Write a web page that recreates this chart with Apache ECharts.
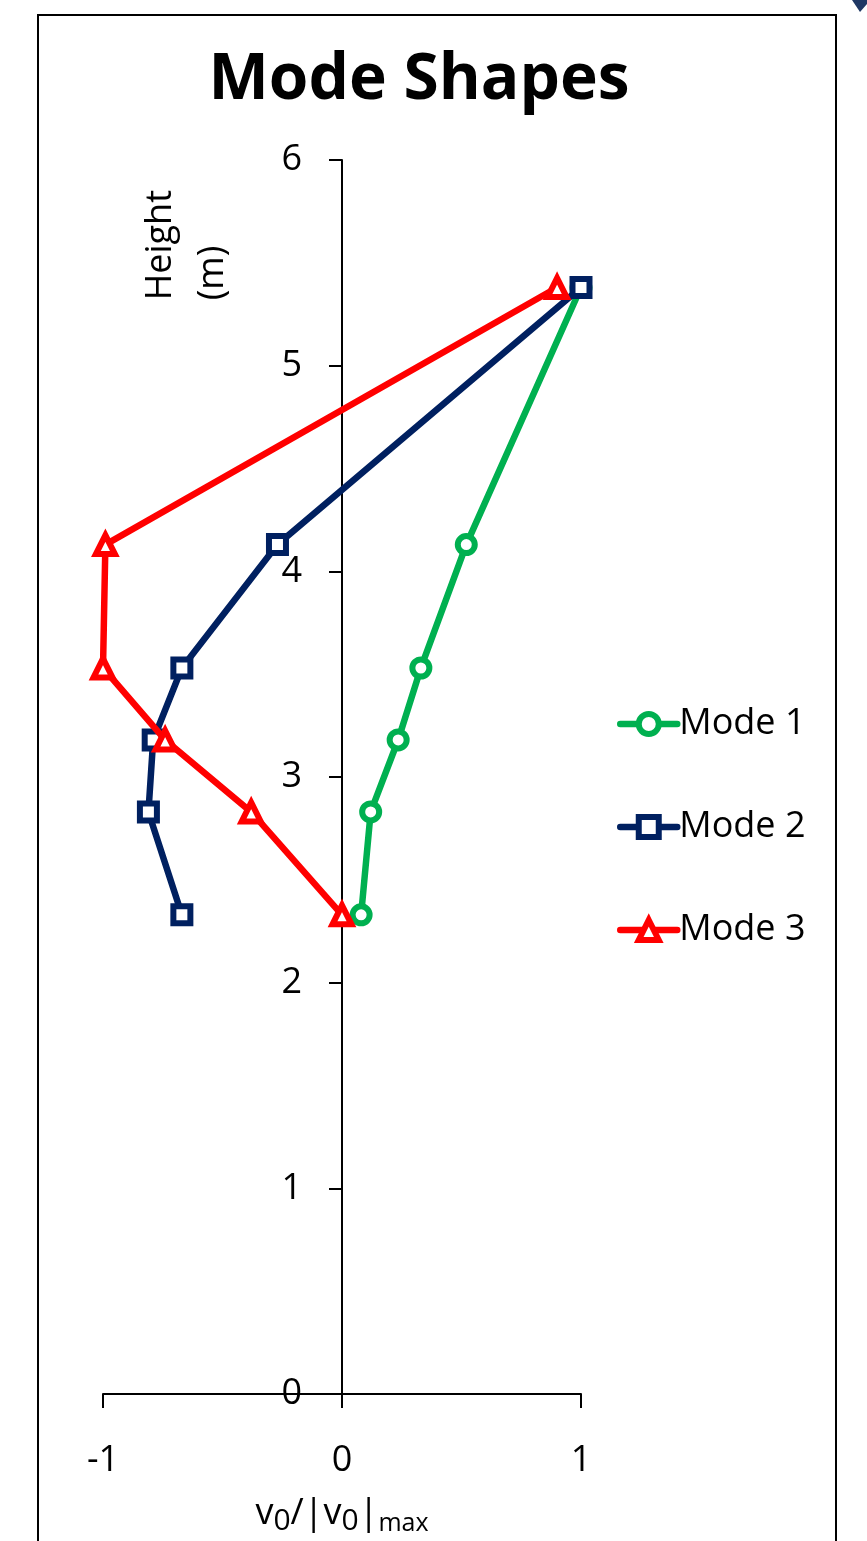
<!DOCTYPE html>
<html>
<head>
<meta charset="utf-8">
<script src="https://cdn.jsdelivr.net/npm/echarts@6/dist/echarts.min.js"></script>
<style>
html,body{margin:0;padding:0;background:#fff;}
#chart{width:867px;height:1541px;}
</style>
</head>
<body>
<div id="chart"></div>
<script>
// Data
const heights = [2.33, 2.83, 3.18, 3.53, 4.13, 5.38];
const mode1 = [0.08, 0.12, 0.235, 0.33, 0.52, 1.0];
const mode2 = [-0.67, -0.81, -0.79, -0.67, -0.27, 1.0];
const mode3 = [0.0, -0.38, -0.74, -1.0, -0.99, 0.9];
const seriesNames = ['Mode 1', 'Mode 2', 'Mode 3'];
const xTicks = [-1, 0, 1];
const yTicks = [0, 1, 2, 3, 4, 5, 6];

const FONT = 'Open Sans';
const colors = ['#00B050', '#002060', '#FF0000'];
const symbols = ['circle', 'rect', 'triangle'];
const symbolSizes = [17, 17, 19];
const modes = [mode1, mode2, mode3];

const chart = echarts.init(document.getElementById('chart'), null, {renderer: 'canvas'});

const series = modes.map((m, i) => ({
  name: seriesNames[i],
  type: 'line',
  data: m.map((v, k) => [v, heights[k]]),
  symbol: symbols[i],
  symbolSize: symbolSizes[i],
  showAllSymbol: true,
  lineStyle: {color: colors[i], width: 6.5, cap: 'round', join: 'round'},
  itemStyle: {color: '#ffffff', borderColor: colors[i], borderWidth: 6},
  emphasis: {disabled: true},
  animation: false,
  z: 2 + i
}));

// plot area: x -1..1 spans px 103..581, y 0..6 spans px 1403.5..160
const gridLeft = 103, gridRight = 286;
const zeroOffset = -(342 - gridLeft);

const option = {
  animation: false,
  backgroundColor: '#ffffff',
  textStyle: {fontFamily: FONT},
  title: {
    text: 'Mode Shapes',
    left: 414,
    top: 44,
    textAlign: 'center',
    textStyle: {fontFamily: FONT, fontWeight: 'bold', fontSize: 64, color: '#000'}
  },
  grid: {left: gridLeft, right: gridRight, top: 160, bottom: 137.5, containLabel: false},
  xAxis: {
    type: 'value',
    min: xTicks[0],
    max: xTicks[xTicks.length - 1],
    interval: 1,
    axisLine: {onZero: false, lineStyle: {color: '#000', width: 2}},
    axisTick: {show: true, inside: false, length: 14, lineStyle: {color: '#000', width: 2}},
    axisLabel: {color: '#000', fontSize: 36, fontFamily: FONT, margin: 49,
      formatter: v => (xTicks.indexOf(v) >= 0 ? String(v) : '')},
    splitLine: {show: false},
    name: '{m|v}{s|0}{m|/|v}{s|0}{m||}{x|max}',
    nameLocation: 'middle',
    nameGap: 98,
    nameTextStyle: {
      rich: {
        m: {fontFamily: FONT, fontSize: 36, color: '#000', lineHeight: 44, verticalAlign: 'middle'},
        s: {fontFamily: FONT, fontSize: 30, color: '#000', lineHeight: 30, verticalAlign: 'bottom'},
        x: {fontFamily: FONT, fontSize: 25, color: '#000', lineHeight: 25, verticalAlign: 'bottom'}
      }
    }
  },
  yAxis: {
    type: 'value',
    position: 'left',
    offset: zeroOffset,
    min: yTicks[0],
    max: yTicks[yTicks.length - 1],
    interval: 1,
    axisLine: {show: true, onZero: false, lineStyle: {color: '#000', width: 2}},
    axisTick: {show: true, inside: false, length: 13, lineStyle: {color: '#000', width: 2}},
    axisLabel: {color: '#000', fontSize: 36, fontFamily: FONT, margin: 40},
    splitLine: {show: false}
  },
  legend: {
    orient: 'vertical',
    left: 612,
    top: 696,
    itemWidth: 57,
    itemHeight: 25,
    itemGap: 57,
    data: seriesNames,
    lineStyle: {width: 6.5},
    itemStyle: {borderWidth: 6},
    textStyle: {fontFamily: FONT, fontSize: 36, color: '#000', lineHeight: 46, padding: [0, 0, 0, -3]},
    selectedMode: false
  },
  graphic: [
    {type: 'rect', shape: {x: 38, y: 15, width: 798, height: 1600},
     style: {fill: 'none', stroke: '#000', lineWidth: 2}, z: 0, silent: true},
    {type: 'polygon', shape: {points: [[852, 0], [867, 0], [867, 4], [860, 12]]},
     style: {fill: '#1f3864'}, silent: true},
    {type: 'text', rotation: Math.PI / 2, left: 135, top: 190,
     style: {text: 'Height\n(m)', fontFamily: FONT, fontSize: 36, fill: '#000',
       align: 'center', lineHeight: 52}, silent: true}
  ],
  series: series
};
chart.setOption(option);
</script>
</body>
</html>
